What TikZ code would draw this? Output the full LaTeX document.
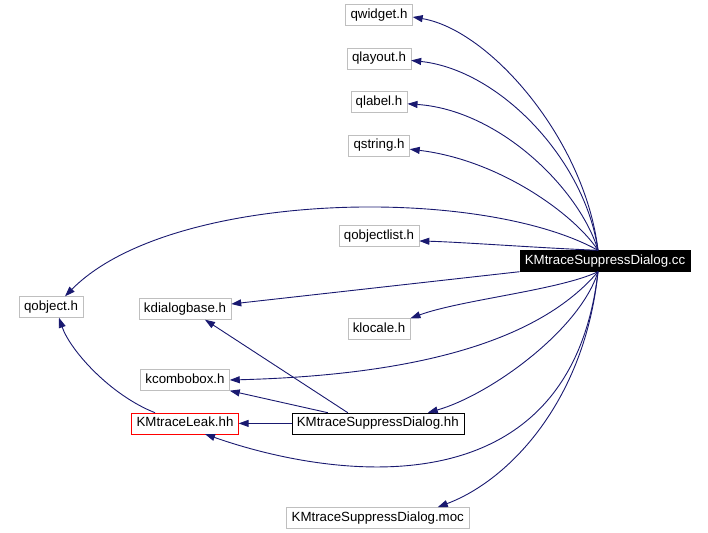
\documentclass[tikz,border=0pt]{standalone}
\usepackage{fontspec}
\setmainfont{Liberation Sans}
\usetikzlibrary{arrows.meta,positioning}

\definecolor{depblue}{HTML}{191970}
\definecolor{filegray}{HTML}{BFBFBF}

\begin{document}
\begin{tikzpicture}[>={Triangle[length=10pt,width=7pt]}, x=1pt, y=-1pt, node distance=22pt]

	\tikzstyle{file}=[draw=filegray, rectangle, minimum height=21pt, inner xsep=5pt,
	inner ysep=0pt, text height=9.8pt, text depth=2.7pt, font=\fontsize{13.3}{15}\selectfont]
	\tikzstyle{mainfile}=[file, draw=black, fill=black, text=white]
	\tikzstyle{leakfile}=[file, draw=red]
	\tikzstyle{hhfile}=[file, draw=black]
	\tikzstyle{dep}=[->, draw=depblue, line width=0.9pt]

	\useasboundingbox (0,0) rectangle (708,532);

	% Main source file
	\node[mainfile] (cc) at (605,261) {KMtraceSuppressDialog.cc};

	% Qt headers
	\node[file] (qwidget) at (379,15) {qwidget.h};
	\node[file, below=of qwidget] (qlayout) {qlayout.h};
	\node[file, below=of qlayout] (qlabel) {qlabel.h};
	\node[file, below=of qlabel] (qstring) {qstring.h};
	\node[file] (qobjectlist) at (379,236) {qobjectlist.h};
	\node[file] (qobject) at (51,307) {qobject.h};

	% KDE headers
	\node[file] (kdialogbase) at (185,309) {kdialogbase.h};
	\node[file] (klocale) at (379,329) {klocale.h};
	\node[file] (kcombobox) at (185,380) {kcombobox.h};

	% Local headers
	\node[leakfile, below=of kcombobox] (leak) {KMtraceLeak.hh};
	\node[hhfile, right=53pt of leak] (hh) {KMtraceSuppressDialog.hh};
	\node[file, below=73pt of hh] (moc) {KMtraceSuppressDialog.moc};

	% Includes of the .cc file
	\draw[dep] ([xshift=-7pt]cc.north) .. controls (585,140) and (490,30) .. ([yshift=-2pt]qwidget.east);
	\draw[dep] ([xshift=-7pt]cc.north) .. controls (585,160) and (500,70) .. ([yshift=-2pt]qlayout.east);
	\draw[dep] ([xshift=-7pt]cc.north) .. controls (580,190) and (500,110) .. ([yshift=-2pt]qlabel.east);
	\draw[dep] ([xshift=-7pt]cc.north) .. controls (575,215) and (500,160) .. ([yshift=-4pt]qstring.east);
	\draw[dep] ([xshift=-7pt]cc.north) .. controls (480,185) and (170,190) .. ([xshift=14pt]qobject.north);
	\draw[dep] ([xshift=-7pt]cc.north) .. controls (540,248) and (460,242) .. ([yshift=-5pt]qobjectlist.east);
	\draw[dep] (cc.south west) -- ([yshift=5pt]kdialogbase.east);
	\draw[dep] ([xshift=-7pt]cc.south) .. controls (560,290) and (460,300) .. (klocale.north east);
	\draw[dep] ([xshift=-7pt]cc.south) .. controls (540,340) and (420,375) .. (kcombobox.east);
	\draw[dep] ([xshift=-7pt]cc.south) .. controls (580,330) and (490,395) .. ([xshift=50pt]hh.north);
	\draw[dep] ([xshift=-7pt]cc.south) .. controls (570,515) and (330,478) .. ([xshift=20pt]leak.south);
	\draw[dep] ([xshift=-7pt]cc.south) .. controls (585,400) and (510,480) .. ([xshift=60pt]moc.north);

	% Includes of the headers
	\draw[dep] ([xshift=-30pt]hh.north) -- ([xshift=20pt]kdialogbase.south);
	\draw[dep] ([xshift=-50pt]hh.north) -- (kcombobox.south east);
	\draw[dep] (hh.west) -- (leak.east);
	\draw[dep] ([xshift=-30pt]leak.north) .. controls (110,395) and (70,350) .. ([xshift=8pt]qobject.south);

\end{tikzpicture}
\end{document}
